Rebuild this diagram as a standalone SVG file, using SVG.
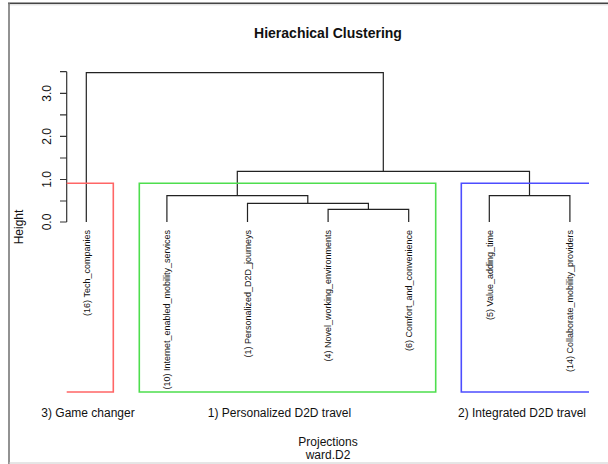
<svg xmlns="http://www.w3.org/2000/svg" width="608" height="464" viewBox="0 0 608 464">
<style>
  text { font-family: "Liberation Sans", Arial, sans-serif; fill: #111; }
  .title { font-size: 14px; font-weight: bold; }
  .tick { font-size: 12px; }
  .leaf { font-size: 9px; }
  .clab { font-size: 12px; }
  .dend { fill: none; stroke: #222; stroke-width: 1.2; }
  .axis { fill: none; stroke: #333; stroke-width: 1.2; }
  .red { fill: none; stroke: #ff6666; stroke-width: 1.6; }
  .green { fill: none; stroke: #4ede4e; stroke-width: 1.6; }
  .blue { fill: none; stroke: #4d4dff; stroke-width: 1.6; }
</style>
<rect x="0" y="0" width="608" height="464" fill="#ffffff"/>
<g id="frame">
  <line x1="8" y1="3.3" x2="608" y2="3.3" stroke="#444" stroke-width="1.4"/>
  <line x1="8" y1="4.8" x2="608" y2="4.8" stroke="#ccc" stroke-width="0.8"/>
  <line x1="9" y1="3" x2="9" y2="464" stroke="#777" stroke-width="1.6"/>
  <line x1="9" y1="463" x2="608" y2="463" stroke="#ccc" stroke-width="1"/>
</g>
<text class="title" x="328" y="38" text-anchor="middle">Hierachical Clustering</text>
<g id="y-axis">
  <path class="axis" d="M66.7,71.7 V222 M60,71.7 H66.7 M60,93.3 H66.7 M60,114.9 H66.7 M60,136.4 H66.7 M60,158 H66.7 M60,179.5 H66.7 M60,201 H66.7 M60,222 H66.7"/>
  <text class="tick" transform="translate(51,93.3) rotate(-90)" text-anchor="middle">3.0</text>
  <text class="tick" transform="translate(51,136.4) rotate(-90)" text-anchor="middle">2.0</text>
  <text class="tick" transform="translate(51,179.5) rotate(-90)" text-anchor="middle">1.0</text>
  <text class="tick" transform="translate(51,222) rotate(-90)" text-anchor="middle">0.0</text>
  <text class="tick" transform="translate(23,227) rotate(-90)" text-anchor="middle">Height</text>
</g>
<g id="connectors">
  <path class="dend" d="M86.3,222 V72.7 H383.3 V171.3"/>
  <path class="dend" d="M237.3,195.7 V171.3 H529.5 V195.7"/>
  <path class="dend" d="M166.9,222 V195.7 H307.8 V203.3"/>
  <path class="dend" d="M247.5,222 V203.3 H368.4 V209.3"/>
  <path class="dend" d="M328.1,222 V209.3 H408.7 V222"/>
  <path class="dend" d="M489.3,222 V195.7 H569.9 V222"/>
</g>
<g id="leaf-16">
  <text class="leaf" transform="translate(89.5,230) rotate(-90)" text-anchor="end">(16) Tech_companies</text>
</g>
<g id="leaf-10">
  <text class="leaf" transform="translate(170.1,230) rotate(-90)" text-anchor="end">(10) Internet_enabled_mobility_services</text>
</g>
<g id="leaf-1">
  <text class="leaf" transform="translate(250.7,230) rotate(-90)" text-anchor="end">(1) Personalized_D2D_journeys</text>
</g>
<g id="leaf-4">
  <text class="leaf" transform="translate(331.3,230) rotate(-90)" text-anchor="end">(4) Novel_working_environments</text>
</g>
<g id="leaf-6">
  <text class="leaf" transform="translate(411.9,230) rotate(-90)" text-anchor="end">(6) Comfort_and_convenience</text>
</g>
<g id="leaf-5">
  <text class="leaf" transform="translate(492.5,230) rotate(-90)" text-anchor="end">(5) Value_adding_time</text>
</g>
<g id="leaf-14">
  <text class="leaf" transform="translate(573.1,230) rotate(-90)" text-anchor="end">(14) Collaborate_mobility_providers</text>
</g>
<g id="cluster-3">
  <path class="red" d="M66.7,183.3 H113.3 V392 H66.7"/>
  <text class="clab" x="88" y="416.7" text-anchor="middle">3) Game changer</text>
</g>
<g id="cluster-1">
  <path class="green" d="M139.3,183.3 H435.7 V392 H139.3 Z"/>
  <text class="clab" x="279.5" y="416.7" text-anchor="middle">1) Personalized D2D travel</text>
</g>
<g id="cluster-2">
  <path class="blue" d="M589,183.3 H461.3 V392 H589"/>
  <text class="clab" x="522" y="416.7" text-anchor="middle">2) Integrated D2D travel</text>
</g>
<text class="clab" x="328" y="445.5" text-anchor="middle">Projections</text>
<text class="clab" x="328" y="459.3" text-anchor="middle">ward.D2</text>
</svg>
